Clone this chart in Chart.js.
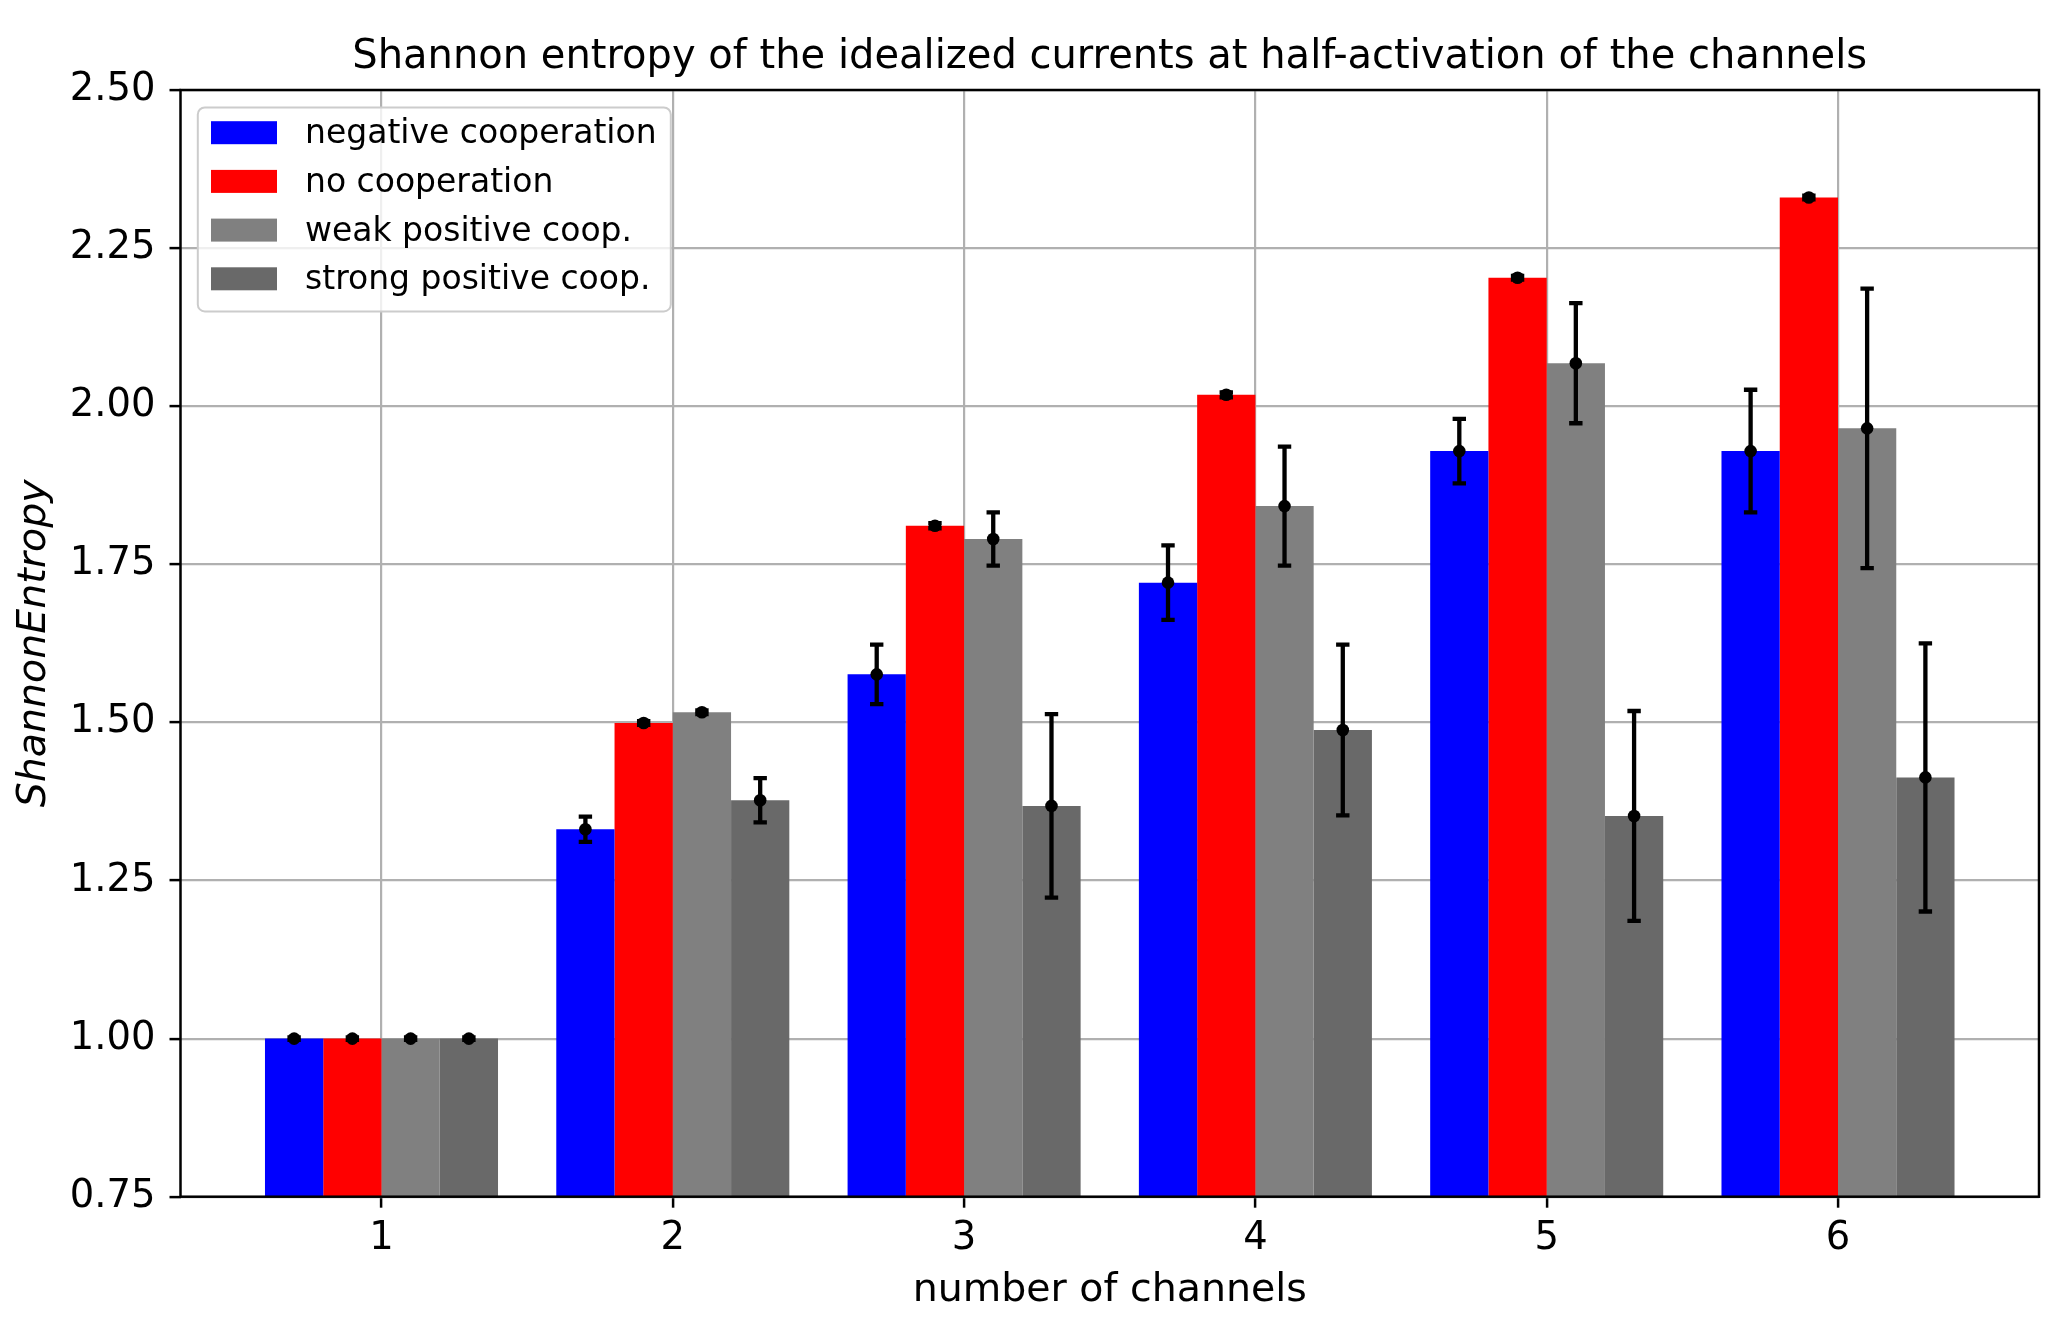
<!DOCTYPE html>
<html><head><meta charset="utf-8">
<script src="https://cdn.jsdelivr.net/npm/chart.js@4.4.1/dist/chart.umd.min.js"></script>
<style>html,body{margin:0;padding:0;background:#fff}canvas{display:block}</style>
</head><body>
<canvas id="c" width="2061" height="1321" style="width:2061px;height:1321px"></canvas>
<script>
const channels = [1, 2, 3, 4, 5, 6];
const seriesLabels = ['negative cooperation', 'no cooperation', 'weak positive coop.', 'strong positive coop.'];
const negativeCoop    = [1.000, 1.331, 1.576, 1.721, 1.929, 1.929];
const negativeCoopErr = [0.002, 0.020, 0.047, 0.059, 0.051, 0.097];
const noCoop          = [1.000, 1.499, 1.811, 2.018, 2.203, 2.330];
const noCoopErr       = [0.002, 0.003, 0.004, 0.004, 0.003, 0.003];
const weakPosCoop     = [1.000, 1.516, 1.790, 1.842, 2.068, 1.965];
const weakPosCoopErr  = [0.002, 0.003, 0.042, 0.094, 0.095, 0.221];
const strongPosCoop   = [1.000, 1.377, 1.368, 1.488, 1.352, 1.413];
const strongPosCoopErr= [0.002, 0.035, 0.145, 0.135, 0.166, 0.212];
const yTicks = [0.75, 1.00, 1.25, 1.50, 1.75, 2.00, 2.25, 2.50];
const colors = ['#0000ff', '#ff0000', '#808080', '#696969'];

const FONT = 'DejaVu Sans';
Chart.defaults.color = '#000';
Chart.defaults.font.family = FONT;

function mk(i, vals, errs) {
  return {
    label: seriesLabels[i],
    data: channels.map((c, j) => ({x: c, y: vals[j]})),
    errors: errs,
    backgroundColor: colors[i],
    borderWidth: 0,
    categoryPercentage: 0.8,
    barPercentage: 1.0
  };
}

const extras = {
  id: 'extras',
  afterDraw(chart) {
    const ctx = chart.ctx, ca = chart.chartArea, ys = chart.scales.y;
    ctx.save();
    // error bars
    chart.data.datasets.forEach((ds, i) => {
      const meta = chart.getDatasetMeta(i);
      meta.data.forEach((bar, j) => {
        const v = ds.data[j].y, e = ds.errors[j];
        const x = bar.x;
        const yt = ys.getPixelForValue(v + e), yb = ys.getPixelForValue(v - e), yc = ys.getPixelForValue(v);
        ctx.strokeStyle = '#000';
        ctx.lineWidth = 4.3;
        ctx.beginPath();
        ctx.moveTo(x, yt); ctx.lineTo(x, yb);
        ctx.moveTo(x - 6.7, yt); ctx.lineTo(x + 6.7, yt);
        ctx.moveTo(x - 6.7, yb); ctx.lineTo(x + 6.7, yb);
        ctx.stroke();
        ctx.fillStyle = '#000';
        ctx.beginPath();
        ctx.arc(x, yc, 6.3, 0, Math.PI * 2);
        ctx.fill();
      });
    });
    // frame
    ctx.strokeStyle = '#000';
    ctx.lineWidth = 2.5;
    ctx.strokeRect(ca.left, ca.top, ca.right - ca.left, ca.bottom - ca.top);
    // legend
    const bx = ca.left + 17.3, by = ca.top + 17.4, bw = 473, bh = 204, r = 7;
    ctx.beginPath();
    ctx.moveTo(bx + r, by);
    ctx.lineTo(bx + bw - r, by); ctx.arcTo(bx + bw, by, bx + bw, by + r, r);
    ctx.lineTo(bx + bw, by + bh - r); ctx.arcTo(bx + bw, by + bh, bx + bw - r, by + bh, r);
    ctx.lineTo(bx + r, by + bh); ctx.arcTo(bx, by + bh, bx, by + bh - r, r);
    ctx.lineTo(bx, by + r); ctx.arcTo(bx, by, bx + r, by, r);
    ctx.closePath();
    ctx.fillStyle = 'rgba(255,255,255,0.8)';
    ctx.fill();
    ctx.strokeStyle = '#cccccc';
    ctx.lineWidth = 2;
    ctx.stroke();
    ctx.font = '33px "' + FONT + '"';
    ctx.textBaseline = 'middle';
    ctx.textAlign = 'left';
    chart.data.datasets.forEach((ds, i) => {
      const cy = by + 25.3 + i * 48.7;
      ctx.fillStyle = ds.backgroundColor;
      ctx.fillRect(bx + 13.2, cy - 11.5, 66, 23);
      ctx.fillStyle = '#000';
      ctx.fillText(ds.label, bx + 107.2, cy + 2);
    });
    ctx.restore();
  }
};

new Chart(document.getElementById('c'), {
  type: 'bar',
  data: {
    datasets: [
      mk(0, negativeCoop, negativeCoopErr),
      mk(1, noCoop, noCoopErr),
      mk(2, weakPosCoop, weakPosCoopErr),
      mk(3, strongPosCoop, strongPosCoopErr)
    ]
  },
  options: {
    responsive: false,
    devicePixelRatio: 1,
    animation: false,
    layout: {padding: {left: 0, right: 22, top: 0, bottom: 0}},
    plugins: {
      legend: {display: false},
      tooltip: {enabled: false},
      title: {
        display: true,
        fullSize: false,
        text: 'Shannon entropy of the idealized currents at half-activation of the channels',
        color: '#000',
        font: {family: FONT, size: 40, weight: 'normal'},
        padding: {top: 34, bottom: 8}
      }
    },
    scales: {
      x: {
        type: 'linear',
        min: 0.31,
        max: 6.69,
        z: 1,
        offset: false,
        border: {display: false},
        grid: {offset: false, color: '#b0b0b0', lineWidth: 2.2, tickColor: '#000', tickLength: 11, tickWidth: 2.5},
        afterBuildTicks(scale) { scale.ticks = channels.map(v => ({value: v})); },
        ticks: {font: {family: FONT, size: 38.5}, color: '#000', padding: 8, maxRotation: 0,
                callback: (v) => String(v)},
        title: {display: true, text: 'number of channels', color: '#000',
                font: {family: FONT, size: 39.5}, padding: {top: 0, bottom: 7}},
        afterFit(scale) { scale.height = 124.3; }
      },
      y: {
        type: 'linear',
        min: 0.75,
        max: 2.5,
        z: 1,
        border: {display: false},
        grid: {color: '#b0b0b0', lineWidth: 2.2, tickColor: '#000', tickLength: 11, tickWidth: 2.5},
        afterBuildTicks(scale) { scale.ticks = yTicks.map(v => ({value: v})); },
        ticks: {font: {family: FONT, size: 38.5}, color: '#000', padding: 14,
                callback: (v) => Number(v).toFixed(2)},
        title: {display: true, text: 'ShannonEntropy', color: '#000',
                font: {family: FONT, size: 39.5, style: 'italic'}, padding: {top: 11, bottom: 0}},
        afterFit(scale) { scale.width = 180.5; }
      }
    }
  },
  plugins: [extras]
});
</script>
</body></html>
